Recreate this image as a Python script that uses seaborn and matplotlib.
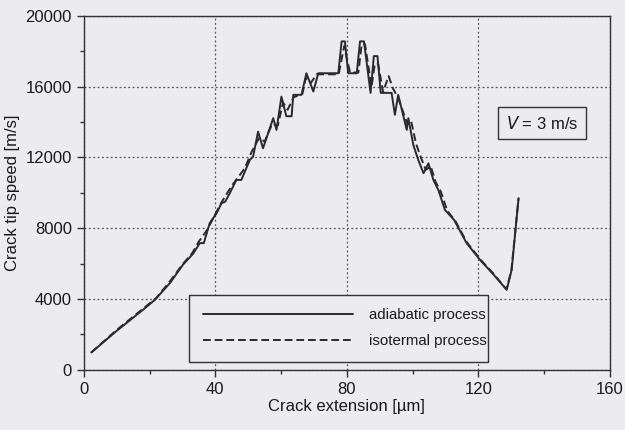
import matplotlib
matplotlib.use("Agg")
import matplotlib.pyplot as plt
import seaborn as sns
import pandas as pd

# Adiabatic process (solid)
adia_x = [2.3, 10, 18, 21.6, 26.2, 30.2, 33.2, 35.3, 36.5, 38.3, 40.4, 41.9, 43.0, 44.4,
          46.4, 47.9, 50.5, 51.5, 53.0, 54.5, 57.6, 58.6, 60.1, 61.6, 63.2, 63.7, 66.2,
          67.7, 69.8, 71.3, 77.4, 78.4, 79.4, 80.4, 83.0, 84.0, 85.2, 87.2, 88.2, 89.3,
          90.3, 93.6, 94.6, 95.6, 98.2, 98.7, 100.2, 101.7, 103.3, 104.8, 106.3, 107.8,
          109.8, 112.6, 116.4, 120.5, 124.5, 128.6, 130.1, 132.2]
adia_y = [980, 2200, 3390, 3950, 4900, 5950, 6550, 7160, 7160, 8290, 8850, 9420, 9500, 9980,
          10730, 10730, 11860, 12050, 13460, 12520, 14220, 13560, 15440, 14330, 14330, 15540, 15540,
          16760, 15730, 16760, 16760, 18560, 18560, 16760, 16760, 18560, 18560, 15650, 17730, 17730,
          15650, 15650, 14410, 15540, 13560, 14220, 12710, 11860, 11110, 11670, 10730, 10170,
          9040, 8470, 7160, 6210, 5400, 4520, 5650, 9700]

# Isothermal process (dashed)
iso_x = [2.3, 10, 18, 22, 26, 30, 33, 35, 37.5, 40, 42, 43.5, 45, 47, 49, 51, 53.3, 55,
         57.3, 59, 60.6, 62, 63.8, 66.5, 67.5, 69, 70.8, 77.5, 79.2, 80.2, 81, 83.5, 84.5,
         85.5, 87.5, 88.5, 89.5, 91, 92.7, 94, 95.5, 98.4, 99.5, 101, 102.5, 104, 105.5, 107,
         108.5, 110.5, 113, 116.5, 120.5, 124.5, 128.5, 130, 132.2]
iso_y = [980, 2250, 3450, 4050, 4950, 5950, 6600, 7250, 7900, 8800, 9500, 9950, 10400, 10900,
         11400, 12300, 13100, 12900, 13900, 13800, 15100, 14700, 15400, 15600, 16500, 16200, 16700,
         16700, 18300, 17400, 16800, 16800, 18400, 18400, 16000, 17300, 17300, 15700, 16600, 15900,
         15400, 13900, 14100, 12800, 12000, 11300, 11500, 10600, 10100, 9000, 8400, 7200, 6250,
         5450, 4550, 5600, 9700]

series_names = ["adiabatic process", "isotermal process"]
x_ticks = [0, 40, 80, 120, 160]
y_ticks = [0, 4000, 8000, 12000, 16000, 20000]

df = pd.concat([
    pd.DataFrame({"x": adia_x, "y": adia_y, "process": series_names[0]}),
    pd.DataFrame({"x": iso_x, "y": iso_y, "process": series_names[1]}),
])

sns.set_style("ticks")
plt.rcParams["font.family"] = ["Liberation Sans", "DejaVu Sans"]

bg = "#ebebf0"
fig = plt.figure(figsize=(6.25, 4.3), dpi=100, facecolor=bg)
ax = fig.add_axes([0.134, 0.14, 0.842, 0.823])
ax.set_facecolor(bg)

sns.lineplot(data=df, x="x", y="y", hue="process", style="process",
             palette=["#2a2a2a", "#2a2a2a"], dashes=[(None, None), (4, 2)],
             estimator=None, sort=False, linewidth=1.4, ax=ax)

ax.set_xlim(0, 160)
ax.set_ylim(0, 20000)
ax.set_xticks(x_ticks)
ax.set_yticks(y_ticks)
ax.set_xticks([20, 60, 100, 140], minor=True)
ax.set_yticks([2000, 6000, 10000, 14000, 18000], minor=True)
ax.tick_params(axis="both", which="major", labelsize=12, length=5, width=1, color="#333333",
               labelcolor="#1a1a1a")
ax.tick_params(axis="both", which="minor", length=3, width=1, color="#333333")
ax.grid(True, which="major", linestyle=(0, (1.5, 2)), color="#555555", linewidth=0.9)
for s in ax.spines.values():
    s.set_visible(True)
    s.set_color("#333333")
    s.set_linewidth(1.0)

ax.set_xlabel("Crack extension [\u00b5m]", fontsize=12, color="#1a1a1a", labelpad=2)
ax.set_ylabel("Crack tip speed [m/s]", fontsize=12, color="#1a1a1a", labelpad=4)

leg = ax.legend(loc="lower left", bbox_to_anchor=(0.2, 0.023, 0.568, 0.19), mode="expand",
                fontsize=10.8, handlelength=10, handletextpad=1.1, borderpad=0.9,
                labelspacing=0.8, fancybox=False, frameon=True, title=None,
                borderaxespad=0)
leg.get_frame().set_edgecolor("#333333")
leg.get_frame().set_facecolor(bg)
leg.get_frame().set_linewidth(1.0)
leg.get_frame().set_alpha(1)
for t in leg.get_texts():
    t.set_color("#1a1a1a")

ax.text(139.3, 13930, "$\\mathit{V}$ = 3 m/s", fontsize=12, ha="center", va="center",
        color="#1a1a1a",
        bbox=dict(boxstyle="square,pad=0.45", facecolor=bg, edgecolor="#333333", linewidth=1.0))

fig.savefig("out.png", dpi=100, facecolor=bg)
